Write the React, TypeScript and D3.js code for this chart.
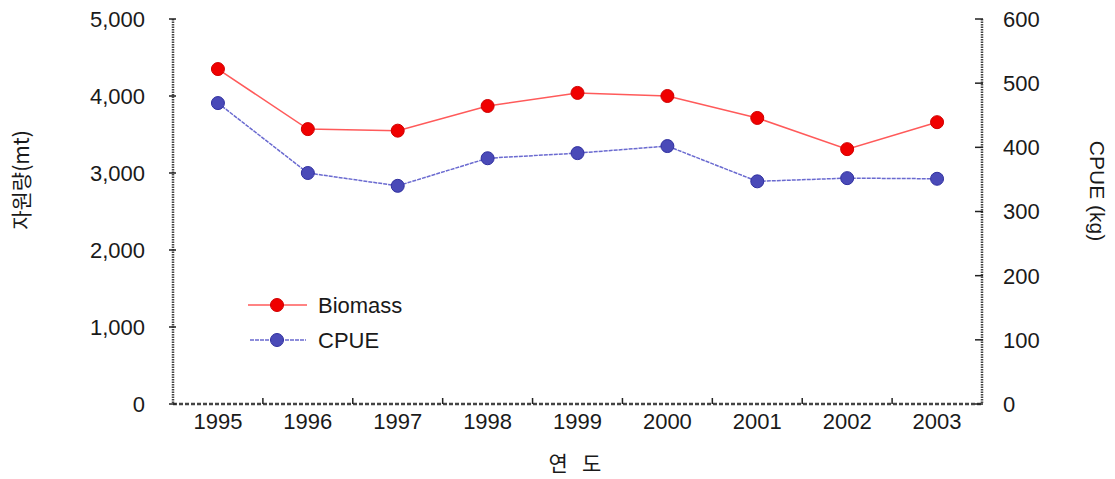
import React from "react";
import * as d3 from "d3";

const years = ["1995", "1996", "1997", "1998", "1999", "2000", "2001", "2002", "2003"];
const biomass = [4350, 3570, 3550, 3870, 4040, 4000, 3715, 3310, 3660];
const cpue = [469, 360, 340, 383, 391, 402, 347, 352, 351];
const leftTicks = [0, 1000, 2000, 3000, 4000, 5000];
const rightTicks = [0, 100, 200, 300, 400, 500, 600];

const W = 1115;
const H = 479;
const M = { left: 173, right: 982, top: 19, bottom: 404 };
const FONT = "'Liberation Sans', Arial, sans-serif";

export default function App() {
  const x = d3.scaleBand<string>().domain(years).range([M.left, M.right]);
  const yL = d3.scaleLinear().domain([0, 5000]).range([M.bottom, M.top]);
  const yR = d3.scaleLinear().domain([0, 600]).range([M.bottom, M.top]);
  const cx = (d: string) => (x(d) as number) + x.bandwidth() / 2;

  const lineB = d3.line<number>().x((_, i) => cx(years[i])).y((d) => yL(d));
  const lineC = d3.line<number>().x((_, i) => cx(years[i])).y((d) => yR(d));

  const fmt = d3.format(",");
  const axisColor = "#444";
  const redStroke = "#ff5a5a";
  const blueStroke = "#6a6ad0";
  const textColor = "#1a1a1a";

  return (
    <svg width={W} height={H} style={{ position: "absolute", left: 0, top: 0, background: "#fff" }}>
      {/* axes lines */}
      <line x1={M.left} x2={M.left} y1={M.top} y2={M.bottom} stroke={axisColor} strokeWidth={2.5} strokeDasharray="1.5,1" />
      <line x1={M.right} x2={M.right} y1={M.top} y2={M.bottom} stroke={axisColor} strokeWidth={2.5} strokeDasharray="1.5,1" />
      <line x1={M.left} x2={M.right} y1={M.bottom} y2={M.bottom} stroke={axisColor} strokeWidth={2.5} strokeDasharray="4,2" />
      {/* left ticks */}
      {leftTicks.map((t) => (
        <g key={"l" + t}>
          <line x1={M.left - 4} x2={M.left + 3} y1={yL(t)} y2={yL(t)} stroke="#222" strokeWidth={1.5} />
          <text x={145} y={yL(t)} dy="0.36em" textAnchor="end" fontFamily={FONT} fontSize={22} fill={textColor}>
            {fmt(t)}
          </text>
        </g>
      ))}
      {/* right ticks */}
      {rightTicks.map((t) => (
        <g key={"r" + t}>
          <line x1={M.right - 7} x2={M.right + 1} y1={yR(t)} y2={yR(t)} stroke="#222" strokeWidth={1.5} />
          <text x={1003} y={yR(t)} dy="0.36em" textAnchor="start" fontFamily={FONT} fontSize={22} fill={textColor}>
            {t}
          </text>
        </g>
      ))}
      {/* bottom ticks at band boundaries */}
      {years.slice(1).map((y) => (
        <line key={"b" + y} x1={x(y) as number} x2={x(y) as number} y1={M.bottom} y2={M.bottom - 6} stroke="#222" strokeWidth={1.5} />
      ))}
      {years.map((y) => (
        <text key={"xl" + y} x={cx(y)} y={429} textAnchor="middle" fontFamily={FONT} fontSize={22} fill={textColor}>
          {y}
        </text>
      ))}
      {/* axis titles */}
      <text x={575} y={471} textAnchor="middle" fontFamily="'Noto Sans CJK KR', sans-serif" fontSize={21} fill={textColor} xmlSpace="preserve">
        {"연   도"}
      </text>
      <text
        transform={`translate(29,180) rotate(-90)`}
        textAnchor="middle"
        fontFamily="'Noto Sans CJK KR', sans-serif"
        fontSize={21}
        fill={textColor}
      >
        자원량(mt)
      </text>
      <text
        transform={`translate(1090,191) rotate(90)`}
        textAnchor="middle"
        fontFamily={FONT}
        fontSize={21}
        fill={textColor}
      >
        CPUE (kg)
      </text>
      {/* series */}
      <path d={lineB(biomass) || ""} fill="none" stroke={redStroke} strokeWidth={1.5} />
      <path d={lineC(cpue) || ""} fill="none" stroke={blueStroke} strokeWidth={1.5} strokeDasharray="4,1" />
      {biomass.map((v, i) => (
        <circle key={"bm" + i} cx={cx(years[i])} cy={yL(v)} r={6.5} fill="#f00000" stroke="#d00000" strokeWidth={1} />
      ))}
      {cpue.map((v, i) => (
        <circle key={"cp" + i} cx={cx(years[i])} cy={yR(v)} r={6.5} fill="#4a4ab8" stroke="#3030a0" strokeWidth={1} />
      ))}
      {/* legend */}
      <line x1={248} x2={307} y1={305} y2={305} stroke={redStroke} strokeWidth={1.5} />
      <circle cx={277} cy={305} r={6.5} fill="#f00000" stroke="#d00000" />
      <text x={318} y={305} dy="0.36em" fontFamily={FONT} fontSize={22} fill={textColor}>Biomass</text>
      <line x1={250} x2={306} y1={340} y2={340} stroke={blueStroke} strokeWidth={1.5} strokeDasharray="4,1" />
      <circle cx={277} cy={340} r={6.5} fill="#4a4ab8" stroke="#3030a0" />
      <text x={318} y={340} dy="0.36em" fontFamily={FONT} fontSize={22} fill={textColor}>CPUE</text>
    </svg>
  );
}
